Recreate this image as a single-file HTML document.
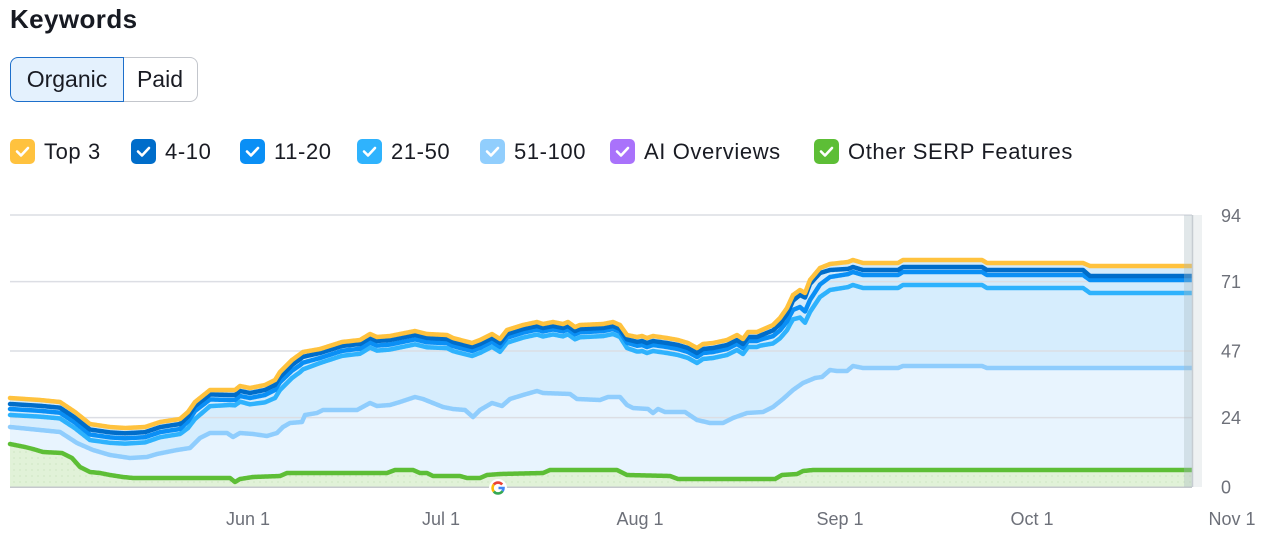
<!DOCTYPE html>
<html>
<head>
<meta charset="utf-8">
<style>
  html,body{margin:0;padding:0;background:#fff;}
  body{width:1267px;height:537px;position:relative;overflow:hidden;font-family:"Liberation Sans",Arial,sans-serif;color:#191b23;}
  .title{position:absolute;left:10px;top:2px;font-size:26px;font-weight:bold;letter-spacing:0.4px;line-height:34px;color:#171a22;}
  .btn{position:absolute;top:57px;height:45px;box-sizing:border-box;font-size:23px;line-height:43px;text-align:center;}
  .org{left:10px;width:114px;background:#e4f1fd;border:1px solid #1d6fcb;border-radius:8px 0 0 8px;z-index:2;}
  .paid{left:123px;width:75px;background:#fff;border:1px solid #c3c6cc;border-left:none;border-radius:0 8px 8px 0;}
  .lg{position:absolute;top:139px;height:25px;font-size:22px;line-height:25px;letter-spacing:0.6px;white-space:nowrap;}
  .cb{position:absolute;left:0;top:0;width:25px;height:25px;border-radius:5px;}
  .cb svg{position:absolute;left:0;top:0;}
  .lt{position:absolute;left:34px;top:0;}
  svg.chart{position:absolute;left:0;top:0;}
</style>
</head>
<body>
<div class="title">Keywords</div>
<div class="btn org">Organic</div>
<div class="btn paid">Paid</div>

<div class="lg" style="left:10px"><div class="cb" style="background:#ffc23e"><svg width="25" height="25"><path d="M7 12.5 L11 16.5 L18 9" stroke="#fff" stroke-width="2.6" fill="none" stroke-linecap="round" stroke-linejoin="round"/></svg></div><span class="lt">Top 3</span></div>
<div class="lg" style="left:131px"><div class="cb" style="background:#006dca"><svg width="25" height="25"><path d="M7 12.5 L11 16.5 L18 9" stroke="#fff" stroke-width="2.6" fill="none" stroke-linecap="round" stroke-linejoin="round"/></svg></div><span class="lt">4-10</span></div>
<div class="lg" style="left:240px"><div class="cb" style="background:#0a8ff5"><svg width="25" height="25"><path d="M7 12.5 L11 16.5 L18 9" stroke="#fff" stroke-width="2.6" fill="none" stroke-linecap="round" stroke-linejoin="round"/></svg></div><span class="lt">11-20</span></div>
<div class="lg" style="left:357px"><div class="cb" style="background:#2fb3fd"><svg width="25" height="25"><path d="M7 12.5 L11 16.5 L18 9" stroke="#fff" stroke-width="2.6" fill="none" stroke-linecap="round" stroke-linejoin="round"/></svg></div><span class="lt">21-50</span></div>
<div class="lg" style="left:480px"><div class="cb" style="background:#91cefd"><svg width="25" height="25"><path d="M7 12.5 L11 16.5 L18 9" stroke="#fff" stroke-width="2.6" fill="none" stroke-linecap="round" stroke-linejoin="round"/></svg></div><span class="lt">51-100</span></div>
<div class="lg" style="left:610px"><div class="cb" style="background:#a972fb"><svg width="25" height="25"><path d="M7 12.5 L11 16.5 L18 9" stroke="#fff" stroke-width="2.6" fill="none" stroke-linecap="round" stroke-linejoin="round"/></svg></div><span class="lt">AI Overviews</span></div>
<div class="lg" style="left:814px"><div class="cb" style="background:#5dbe36"><svg width="25" height="25"><path d="M7 12.5 L11 16.5 L18 9" stroke="#fff" stroke-width="2.6" fill="none" stroke-linecap="round" stroke-linejoin="round"/></svg></div><span class="lt">Other SERP Features</span></div>

<svg class="chart" id="chart" width="1267" height="537" xmlns="http://www.w3.org/2000/svg">
  <defs>
    <pattern id="dots" width="6" height="6" patternUnits="userSpaceOnUse">
      <rect width="6" height="6" fill="#e1f2d8"/>
      <circle cx="2" cy="2" r="0.6" fill="#c3dfb6"/>
    </pattern>
  </defs>
  <g id="fills"></g>
  <g id="grid" stroke="#dcdee4" stroke-width="1.5">
    <line x1="10" y1="215" x2="1192" y2="215"/>
    <line x1="10" y1="281.6" x2="1192" y2="281.6"/>
    <line x1="10" y1="351" x2="1192" y2="351"/>
    <line x1="10" y1="417.6" x2="1192" y2="417.6"/>
  </g>
  <g id="lines" fill="none" stroke-width="4.5" stroke-linejoin="round" stroke-linecap="round"></g>
  <line x1="10" y1="487.2" x2="1192" y2="487.2" stroke="#c5c8cd" stroke-width="1.5"/>
  <rect x="1184" y="215" width="8" height="272" fill="rgba(170,185,192,0.35)"/>
  <rect x="1193" y="215" width="9" height="272" fill="#eef1f2"/>
  <line x1="1192.5" y1="215" x2="1192.5" y2="487" stroke="#c6ccd1" stroke-width="1.5"/>
  <g transform="translate(498,488)">
    <circle r="9" fill="#fff"/>
    <path d="M -4.2,-3.5 A 5.5 5.5 0 0 1 4.2,-3.5" stroke="#ea4335" stroke-width="2.6" fill="none"/>
    <path d="M -4.2,-3.5 A 5.5 5.5 0 0 0 -4.2,3.5" stroke="#fbbc05" stroke-width="2.6" fill="none"/>
    <path d="M -4.2,3.5 A 5.5 5.5 0 0 0 4.6,3.0" stroke="#34a853" stroke-width="2.6" fill="none"/>
    <path d="M 4.6,3.0 A 5.5 5.5 0 0 0 5.5,0 L 0.5,0" stroke="#4285f4" stroke-width="2.6" fill="none"/>
  </g>
  <g font-family="Liberation Sans, Arial, sans-serif" font-size="18" fill="#6d7079">
    <text x="1221" y="222">94</text>
    <text x="1221" y="288">71</text>
    <text x="1221" y="357.5">47</text>
    <text x="1221" y="424">24</text>
    <text x="1221" y="493.5">0</text>
    <g text-anchor="middle">
      <text x="248" y="525">Jun 1</text>
      <text x="441" y="525">Jul 1</text>
      <text x="640" y="525">Aug 1</text>
      <text x="840" y="525">Sep 1</text>
      <text x="1032" y="525">Oct 1</text>
      <text x="1232" y="525">Nov 1</text>
    </g>
  </g>
</svg>

<script>
(function(){
var Y=[[10,398],[40,400],[60,402],[75,412],[90,424],[110,427],[125,428],[145,427],[160,422],[180,419],[188,412],[195,402],[210,390],[235,390],[240,386],[250,388],[265,385],[275,380],[280,372],[292,360],[303,352],[320,349],[342,342],[360,340],[370,334],[377,337],[390,336],[400,334],[415,331],[427,334],[447,335],[453,338],[472,343],[480,340],[492,334],[500,339],[507,330],[523,325],[537,322],[543,324],[553,322],[563,324],[568,322],[575,327],[580,325],[603,324],[613,322],[620,325],[627,335],[637,337],[642,336],[647,338],[653,336],[667,338],[678,340],[688,343],[697,348],[703,344],[713,343],[727,340],[737,335],[743,339],[748,332],[757,332],[773,325],[780,318],[787,308],[793,295],[800,290],[805,293],[810,280],[820,268],[830,264],[848,262],[853,260],[863,263],[898,263],[903,260],[982,260],[987,263],[1083,263],[1090,266],[1192,266]];
var OFF=[[10,6,11,17],[180,5,10,15],[195,4,9,17],[230,5,10,15],[275,5,10,18],[300,5,11,18],[320,4,9,14],[620,4,7,12],[640,5,9,15],[760,5,9,15],[790,6,14,23],[810,4,20,32],[830,6,13,26],[850,7,12,25],[1083,7,12,25],[1090,10,14,27],[1192,10,14,27]];
var P51=[[10,427],[40,430],[60,432],[77,443],[93,450],[110,455],[130,458],[147,457],[157,454],[177,450],[190,448],[200,438],[210,433],[227,433],[233,437],[240,433],[253,434],[267,436],[277,433],[283,427],[290,423],[302,422],[305,415],[317,413],[323,410],[357,410],[370,403],[377,406],[390,405],[400,402],[415,397],[423,399],[433,403],[443,407],[453,409],[465,410],[473,417],[480,410],[492,403],[502,406],[510,399],[523,395],[537,391],[543,393],[570,394],[577,399],[600,400],[608,397],[620,397],[627,405],[633,408],[648,409],[653,413],[658,409],[665,412],[685,412],[697,420],[710,423],[723,423],[733,418],[747,413],[763,412],[773,407],[783,399],[793,390],[803,383],[815,378],[822,377],[830,370],[837,371],[847,371],[853,366],[863,368],[898,368],[903,366],[982,366],[987,368],[1192,368]];
var G=[[10,444],[25,447],[33,449],[43,452],[62,453],[72,458],[80,467],[90,472],[100,473],[110,475],[123,477],[133,478],[230,478],[235,482],[240,479],[253,477],[280,476],[287,473],[387,473],[395,470],[413,470],[420,473],[427,473],[433,476],[460,476],[467,478],[480,478],[487,475],[500,474],[543,473],[550,470],[617,470],[627,475],[670,476],[678,479],[775,479],[782,475],[797,474],[803,471],[813,470],[1192,470]];
function interp(pts,x,k){
  k=k||1;
  for(var i=0;i<pts.length-1;i++){
    if(x>=pts[i][0]&&x<=pts[i+1][0]){
      var t=(x-pts[i][0])/(pts[i+1][0]-pts[i][0]||1);
      return pts[i][k]+(pts[i+1][k]-pts[i][k])*t;
    }
  }
  return pts[pts.length-1][k];
}
var xs=[];for(var x=10;x<=1192;x+=1)xs.push(x);
function build(fn){var s="";xs.forEach(function(x,i){s+=(i?"L":"M")+x+" "+fn(x).toFixed(2)+" ";});return s;}
var fy=function(x){return interp(Y,x);};
var f1=function(x){return interp(Y,x)+interp(OFF,x,1);};
var f2=function(x){return interp(Y,x)+interp(OFF,x,2);};
var f3=function(x){return interp(Y,x)+interp(OFF,x,3);};
var f5=function(x){return interp(P51,x);};
var fg=function(x){return interp(G,x);};
var close=" L1192 487 L10 487 Z";
var fills=document.getElementById("fills");
var lines=document.getElementById("lines");
var fh='';
fh+='<path d="'+build(fy)+close+'" fill="#d3ebfc"/>';
fh+='<path d="'+build(f3)+close+'" fill="#d6edfd"/>';
fh+='<path d="'+build(f5)+close+'" fill="#e8f4fe"/>';
fh+='<path d="'+build(fg)+close+'" fill="url(#dots)"/>';
fills.innerHTML=fh;
var lh='';
lh+='<path d="'+build(fg)+'" stroke="#5dbe36"/>';
lh+='<path d="'+build(f5)+'" stroke="#8fcdfd"/>';
lh+='<path d="'+build(f3)+'" stroke="#2eb2fd"/>';
lh+='<path d="'+build(f2)+'" stroke="#0a8ff5"/>';
lh+='<path d="'+build(f1)+'" stroke="#006dca"/>';
lh+='<path d="'+build(fy)+'" stroke="#ffc23e"/>';
lines.innerHTML=lh;
})();
</script>
</body>
</html>
